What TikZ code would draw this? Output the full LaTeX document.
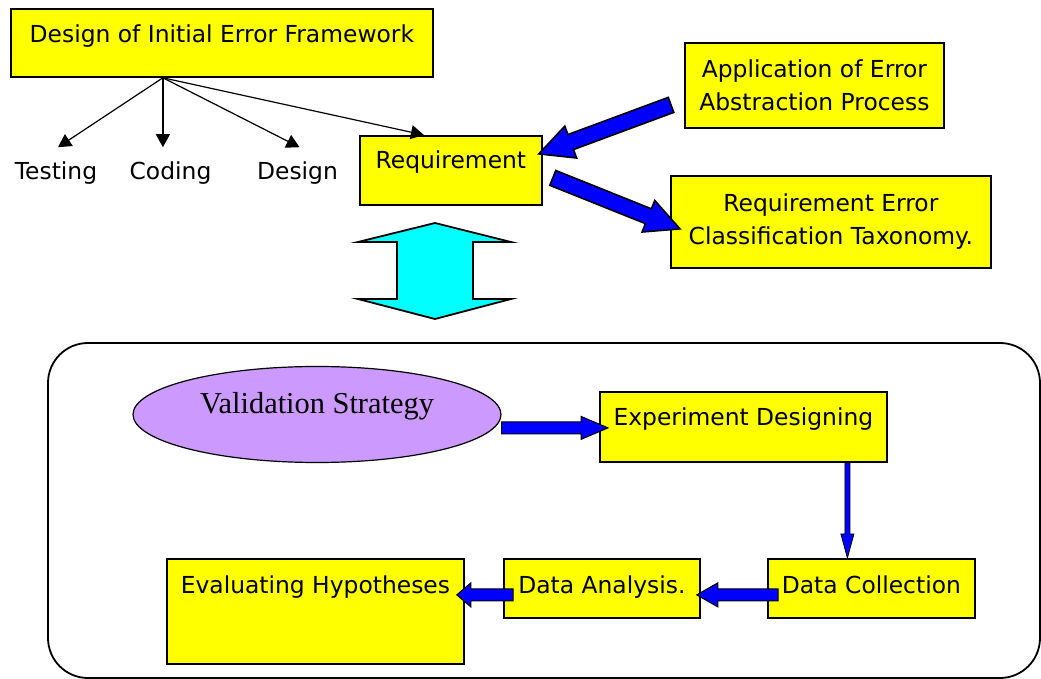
\documentclass[tikz,border=0pt]{standalone}
\usepackage{fontspec}
\setmainfont{DejaVu Sans}
\newfontfamily\serifface{Liberation Serif}
\usetikzlibrary{shapes.geometric,arrows.meta,calc}
\definecolor{boxyellow}{RGB}{255,255,0}
\definecolor{lilac}{RGB}{204,153,255}
\definecolor{aqua}{RGB}{0,255,255}

% block arrow: [extra style]{from}{to}{shaft half}{head half}{head length}
\newcommand{\fatarrow}[6][]{%
  \filldraw[fatline,#1] let \p1=($(#3)-(#2)$), \n1={atan2(\y1,\x1)}, \n2={veclen(\x1,\y1)} in
    ($(#2)+(\n1+90:#4)$) -- ($(#2)+(\n1:{\n2-#6})+(\n1+90:#4)$)
    -- ($(#2)+(\n1:{\n2-#6})+(\n1+90:#5)$) -- (#3)
    -- ($(#2)+(\n1:{\n2-#6})+(\n1-90:#5)$) -- ($(#2)+(\n1:{\n2-#6})+(\n1-90:#4)$)
    -- ($(#2)+(\n1-90:#4)$) -- cycle;}

\begin{document}
\begin{tikzpicture}[x=0.5pt, y=-0.5pt,
    box/.style={draw, fill=boxyellow, line width=0.9pt, inner sep=0pt, anchor=north west,
                align=center, font=\fontsize{11.7}{16.5}\selectfont},
    lbl/.style={inner sep=0pt, outer ysep=7.5pt, anchor=base, font=\fontsize{11.7}{14}\selectfont},
    branch/.style={-{Triangle[length=6.5pt,width=7pt]}, line width=0.6pt},
    fatline/.style={fill=blue, draw=black, line width=0.8pt, line join=miter}]
    \useasboundingbox (0,0) rectangle (1041,679);

    % upper part
    \node[box, minimum width=211pt, text height=17pt, text depth=17pt] (init) at (10,8) {Design of Initial Error Framework};
    \node[box, minimum width=91pt, text height=16.5pt, text depth=18pt] (req) at (359,135) {Requirement};
    \node[box, minimum width=129.5pt, minimum height=42.5pt] (app) at (684,42) {Application of Error\\Abstraction Process};
    \node[box, minimum width=160pt, minimum height=46pt] (tax) at (670,175) {Requirement Error\\Classification Taxonomy.};

    \node[lbl] (testing) at (56,180) {Testing};
    \node[lbl] (coding) at (170.5,180) {Coding};
    \node[lbl] (design) at (297.5,180) {Design};

    \coordinate (fork) at ([xshift=-29.5pt]init.south);
    \draw[branch] (fork) -- ([xshift=1pt]testing.north);
    \draw[branch] (fork) -- (fork |- coding.north);
    \draw[branch] (fork) -- ([xshift=1pt]design.north);
    \draw[branch] (fork) -- ([xshift=-13.5pt]req.north);

    \coordinate (appout) at ([shift={(-13,19.5)}]app.west);
    \coordinate (reqin) at ([shift={(-4,-16.5)}]req.east);
    \coordinate (reqout) at ([shift={(10,7.5)}]req.east);
    \coordinate (taxin) at ([shift={(10,7)}]tax.west);
    \fatarrow{appout}{reqin}{4pt}{8.5pt}{17pt}
    \fatarrow{reqout}{taxin}{4pt}{8.5pt}{17pt}

    % two-way arrow
    \filldraw[fill=aqua, line width=0.9pt, line join=miter]
        (435,223) -- (511,242) -- (473,242) -- (473,299) -- (511,299) -- (435,319)
        -- (358,299) -- (397,299) -- (397,242) -- (358,242) -- cycle;

    % validation part
    \draw[line width=0.9pt, rounded corners=20pt] (48,343) rectangle (1040,678);
    \node[ellipse, draw, fill=lilac, line width=0.6pt, inner sep=0pt, minimum width=184pt, minimum height=48pt,
          text height=9pt, text depth=10pt, font=\serifface\fontsize{15.2}{16}\selectfont] (vs) at (317,414.5) {Validation Strategy};
    \node[box, minimum width=143.5pt, text height=17pt, text depth=18pt] (exp) at (599,391) {Experiment Designing};
    \node[box, minimum width=103.5pt, text height=17.5pt, text depth=12pt] (dc) at (767,558) {Data Collection};
    \node[box, minimum width=98pt, text height=17.5pt, text depth=12pt] (da) at (503,558) {Data Analysis.};
    \node[box, minimum width=148.5pt, text height=17.5pt, text depth=35pt] (eh) at (166,558) {Evaluating Hypotheses};

    \coordinate (expin) at ([shift={(9,1)}]exp.west);
    \coordinate (vsout) at (vs.east |- expin);
    \coordinate (dcin) at ([xshift=-12pt]dc.north);
    \coordinate (expout) at (exp.south -| dcin);
    \coordinate (dcout) at ([shift={(11,6.5)}]dc.west);
    \coordinate (dain) at ([shift={(-4,6.5)}]da.east);
    \coordinate (daout) at ([shift={(10,6.5)}]da.west);
    \coordinate (ehin) at ($(eh.east |- daout)+(-8,0)$);
    \fatarrow[line width=0.5pt]{vsout}{expin}{3pt}{5.75pt}{13.5pt}
    \fatarrow[line width=0.4pt]{expout}{dcin}{1.25pt}{3.25pt}{12pt}
    \fatarrow[line width=0.5pt]{dcout}{dain}{3pt}{6pt}{10.5pt}
    \fatarrow[line width=0.5pt]{daout}{ehin}{3pt}{6pt}{7pt}
\end{tikzpicture}
\end{document}
